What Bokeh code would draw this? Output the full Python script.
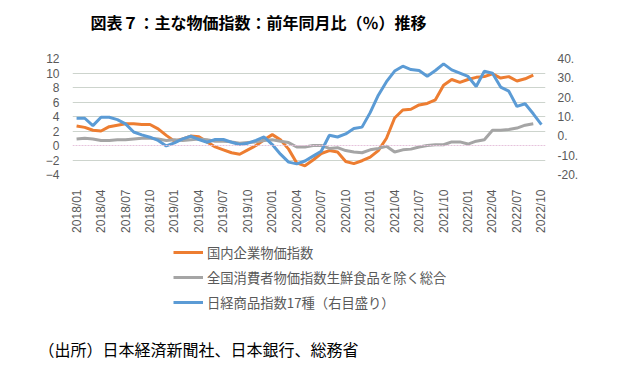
import math
from bokeh.plotting import figure
from bokeh.layouts import column
from bokeh.models import (Range1d, LinearAxis, FixedTicker, Span, Legend,
                          LegendItem, Label, Title)
from bokeh.embed import file_html
from bokeh.resources import INLINE

# ---- data -------------------------------------------------------------
tick_labels = ["2018/01", "2018/04", "2018/07", "2018/10",
               "2019/01", "2019/04", "2019/07", "2019/10",
               "2020/01", "2020/04", "2020/07", "2020/10",
               "2021/01", "2021/04", "2021/07", "2021/10",
               "2022/01", "2022/04", "2022/07", "2022/10"]

# 国内企業物価指数 (2018/01 - 2022/09), left axis, %
cgpi = [2.7, 2.5, 2.1, 2.0, 2.6, 2.8, 3.0, 3.0, 2.9, 2.9, 2.3, 1.4,
        0.6, 0.9, 1.3, 1.2, 0.5, -0.2, -0.6, -1.0, -1.2, -0.6, 0.0, 0.8,
        1.5, 0.8, -0.5, -2.4, -2.8, -2.0, -1.1, -0.7, -0.9, -2.2, -2.5, -2.1,
        -1.6, -0.7, 1.0, 3.8, 4.9, 5.0, 5.6, 5.8, 6.3, 8.3, 9.1, 8.7,
        9.1, 9.4, 9.5, 9.9, 9.3, 9.5, 8.9, 9.2, 9.7]

# 全国消費者物価指数生鮮食品を除く総合 (2018/01 - 2022/09), left axis, %
core_cpi = [0.9, 1.0, 0.9, 0.7, 0.7, 0.8, 0.8, 0.9, 1.0, 1.0, 0.9, 0.7,
            0.8, 0.7, 0.8, 0.9, 0.8, 0.6, 0.6, 0.5, 0.3, 0.4, 0.5, 0.7,
            0.8, 0.6, 0.4, -0.2, -0.2, 0.0, 0.0, -0.4, -0.3, -0.7, -0.9, -1.0,
            -0.6, -0.4, -0.1, -0.9, -0.6, -0.5, -0.2, 0.0, 0.1, 0.1, 0.5, 0.5,
            0.2, 0.6, 0.8, 2.1, 2.1, 2.2, 2.4, 2.8, 3.0]

# 日経商品指数17種 (2018/01 - 2022/10), right axis, %
nikkei17 = [9.1, 9.1, 5.3, 9.6, 9.6, 8.4, 6.2, 2.0, 0.5, -0.7, -2.4, -5.2,
            -3.6, -1.6, -0.2, -1.9, -3.3, -1.9, -1.9, -3.3, -4.5, -3.8, -2.4, -0.6,
            -4.5, -9.5, -13.6, -14.5, -13.0, -10.5, -8.0, 0.3, -0.6, 1.0, 3.8, 4.5,
            12.0, 21.0, 28.0, 33.5, 36.0, 34.3, 33.8, 30.8, 33.8, 37.2, 34.1, 32.4,
            30.7, 25.5, 33.4, 32.4, 25.2, 23.1, 15.2, 16.6, 11.4, 5.8]

left_ticks = [-4, -2, 0, 2, 4, 6, 8, 10, 12]
right_ticks = [-20, -10, 0, 10, 20, 30, 40]

series_names = ["国内企業物価指数",
                "全国消費者物価指数生鮮食品を除く総合",
                "日経商品指数17種（右目盛り）"]
series_values = [cgpi, core_cpi, nikkei17]
series_colors = ["#ED7D31", "#A5A5A5", "#5B9BD5"]

title_text = "図表７：主な物価指数：前年同月比（％）推移"
source_text = "（出所）日本経済新聞社、日本銀行、総務省"

LABEL_FONT = "Liberation Sans"
AX_COLOR = "#595959"
CJK = "Noto Sans CJK JP"


def blank(height, **kw):
    f = figure(width=634, height=height, output_backend="svg",
               toolbar_location=None, x_range=Range1d(0, 1),
               y_range=Range1d(0, 1), min_border=0,
               x_axis_location=None, y_axis_location=None, **kw)
    f.grid.visible = False
    f.outline_line_color = None
    f.background_fill_color = "white"
    f.border_fill_color = "white"
    return f


# ---- title (frames of the column share the main chart's left edge, x=72) --
t = blank(40)
t.add_layout(Label(x=18, y=19, x_units="screen", y_units="screen",
                   text=title_text, text_align="left", text_baseline="middle",
                   text_font=CJK, text_font_size="16px",
                   text_font_style="bold", text_color="#000000"))

# ---- main chart -------------------------------------------------------
n = len(nikkei17)
p = figure(width=634, height=200, output_backend="svg", toolbar_location=None,
           x_range=Range1d(-0.5, n - 0.5), y_range=Range1d(-4, 12),
           min_border_left=72, min_border_right=89,
           min_border_top=18, min_border_bottom=66)
p.outline_line_color = None
p.background_fill_color = "white"
p.border_fill_color = "white"
p.extra_y_ranges = {"right": Range1d(-20, 40)}

xa = p.xaxis[0]
xticks = [i for i in range(0, n, 3)]
xa.ticker = FixedTicker(ticks=xticks)
xa.major_label_overrides = {tk: lab for tk, lab in zip(xticks, tick_labels)}
xa.major_label_orientation = math.pi / 2
xa.axis_line_color = None
xa.major_tick_line_color = None
xa.minor_tick_line_color = None
xa.major_label_standoff = 9
xa.major_label_text_font = LABEL_FONT
xa.major_label_text_font_size = "12px"
xa.major_label_text_color = AX_COLOR

ya = p.yaxis[0]
ya.ticker = FixedTicker(ticks=left_ticks)
ya.axis_line_color = None
ya.major_tick_line_color = None
ya.minor_tick_line_color = None
ya.major_label_standoff = 7
ya.major_label_text_font = LABEL_FONT
ya.major_label_text_font_size = "12px"
ya.major_label_text_color = AX_COLOR

ra = LinearAxis(y_range_name="right", ticker=FixedTicker(ticks=right_ticks))
ra.major_label_overrides = {tk: f"{tk}." for tk in right_ticks}
ra.axis_line_color = None
ra.major_tick_line_color = None
ra.minor_tick_line_color = None
ra.major_label_standoff = 6
ra.major_label_text_font = LABEL_FONT
ra.major_label_text_font_size = "12px"
ra.major_label_text_color = AX_COLOR
p.add_layout(ra, "right")

p.xgrid.visible = False
p.ygrid.ticker = FixedTicker(ticks=[tk for tk in left_ticks if tk != 0])
p.ygrid.grid_line_color = "#cdd4cd"
p.ygrid.grid_line_width = 1
p.add_layout(Span(location=0, dimension="width", line_color="#e6c3dc",
                  line_width=1, line_dash="2 1"))

p.line(list(range(len(cgpi))), cgpi, line_color=series_colors[0], line_width=3)
p.line(list(range(len(core_cpi))), core_cpi, line_color=series_colors[1], line_width=3)
p.line(list(range(len(nikkei17))), nikkei17, line_color=series_colors[2],
       line_width=3, y_range_name="right")

# ---- legend + source --------------------------------------------------
q = blank(132)
q.min_border_bottom = 40
q.y_range = Range1d(1000, 1001)   # legend keys only; their lines stay off-frame
keys = [q.line(list(range(len(v))), v, line_color=c, line_width=3)
        for v, c in zip(series_values, series_colors)]
legend = Legend(items=[LegendItem(label=s, renderers=[k])
                       for s, k in zip(series_names, keys)],
                location=(101, 20), orientation="vertical",
                glyph_width=30, glyph_height=20, label_height=20,
                label_standoff=4, spacing=5, padding=0, margin=0,
                border_line_color=None, background_fill_alpha=0,
                label_text_font=CJK,
                label_text_font_size="13.3px", label_text_color=AX_COLOR)
q.add_layout(legend, "center")

q.add_layout(Title(text=source_text, align="left", offset=-34, standoff=4,
                   text_font=CJK, text_font_size="16px",
                   text_font_style="normal", text_color="#000000"), "below")

open("out.html", "w").write(file_html(column(t, p, q, spacing=0), INLINE))
